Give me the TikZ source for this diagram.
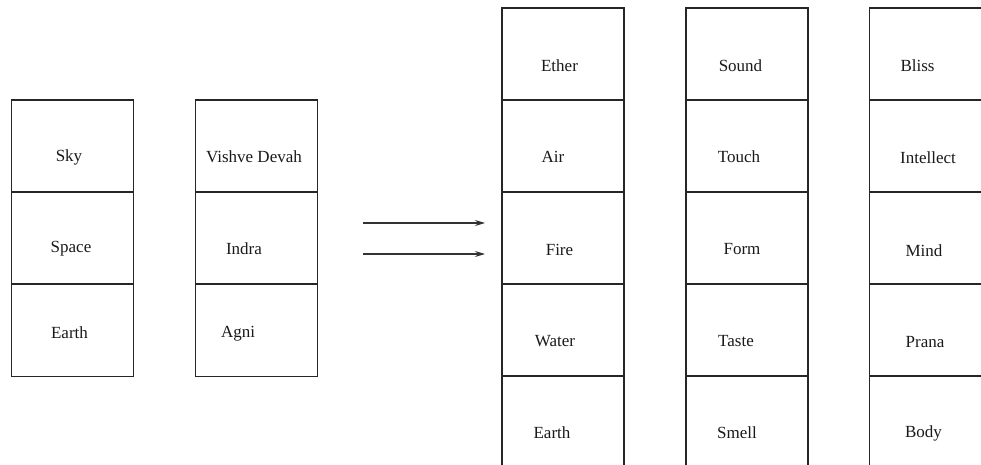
\documentclass[tikz,border=0pt]{standalone}
\usepackage{fontspec}
\setmainfont{Liberation Serif}
\usetikzlibrary{arrows.meta}
\begin{document}
\begin{tikzpicture}[x=1pt,y=-1pt,
  cell/.style={draw=black!85,line width=1.3pt,minimum width=122pt,minimum height=92pt,inner sep=0pt,outer sep=0pt},
  lbl/.style={inner sep=0pt,font=\fontsize{17}{20}\selectfont,text=black!90},
  conn/.style={draw=black!80,line width=1.2pt,-{Stealth[length=10pt,width=6pt]}}]
\useasboundingbox (0,0) rectangle (981,465);
% column 1
\node[cell] (a1) at (72.5,146) {};
\node[cell] (a2) at (72.5,238) {};
\node[cell] (a3) at (72.5,330.5) {};
% column 2
\node[cell] (b1) at (256.5,146) {};
\node[cell] (b2) at (256.5,238) {};
\node[cell] (b3) at (256.5,330.5) {};
% column 3
\node[cell] (c1) at (563,54) {};
\node[cell] (c2) at (563,146) {};
\node[cell] (c3) at (563,238) {};
\node[cell] (c4) at (563,330) {};
\node[cell] (c5) at (563,422) {};
% column 4
\node[cell] (d1) at (747,54) {};
\node[cell] (d2) at (747,146) {};
\node[cell] (d3) at (747,238) {};
\node[cell] (d4) at (747,330) {};
\node[cell] (d5) at (747,422) {};
% column 5
\node[cell] (e1) at (930.5,54) {};
\node[cell] (e2) at (930.5,146) {};
\node[cell] (e3) at (930.5,238) {};
\node[cell] (e4) at (930.5,330) {};
\node[cell] (e5) at (930.5,422) {};
% labels
\node[lbl] (ta1) at (69,157) {Sky};
\node[lbl] (ta2) at (71,249) {Space};
\node[lbl] (ta3) at (69.5,333) {Earth};
\node[lbl] (tb1) at (254,157) {Vishve Devah};
\node[lbl] (tb2) at (244,249) {Indra};
\node[lbl] (tb3) at (238,334) {Agni};
\node[lbl] (tc1) at (559.5,66) {Ether};
\node[lbl] (tc2) at (553,157) {Air};
\node[lbl] (tc3) at (559.5,250) {Fire};
\node[lbl] (tc4) at (555,341) {Water};
\node[lbl] (tc5) at (552,433) {Earth};
\node[lbl] (td1) at (740.5,66) {Sound};
\node[lbl] (td2) at (739,157) {Touch};
\node[lbl] (td3) at (742,249) {Form};
\node[lbl] (td4) at (736,341) {Taste};
\node[lbl] (td5) at (737,433) {Smell};
\node[lbl] (te1) at (917.5,66) {Bliss};
\node[lbl] (te2) at (928,158) {Intellect};
\node[lbl] (te3) at (924,251) {Mind};
\node[lbl] (te4) at (925,342) {Prana};
\node[lbl] (te5) at (923.5,433) {Body};
% arrows
\coordinate (s1) at (363,223);
\coordinate (f1) at (485,223);
\coordinate (s2) at (363,254);
\coordinate (f2) at (485,254);
\draw[conn] (s1) -- (f1);
\draw[conn] (s2) -- (f2);
\end{tikzpicture}
\end{document}
